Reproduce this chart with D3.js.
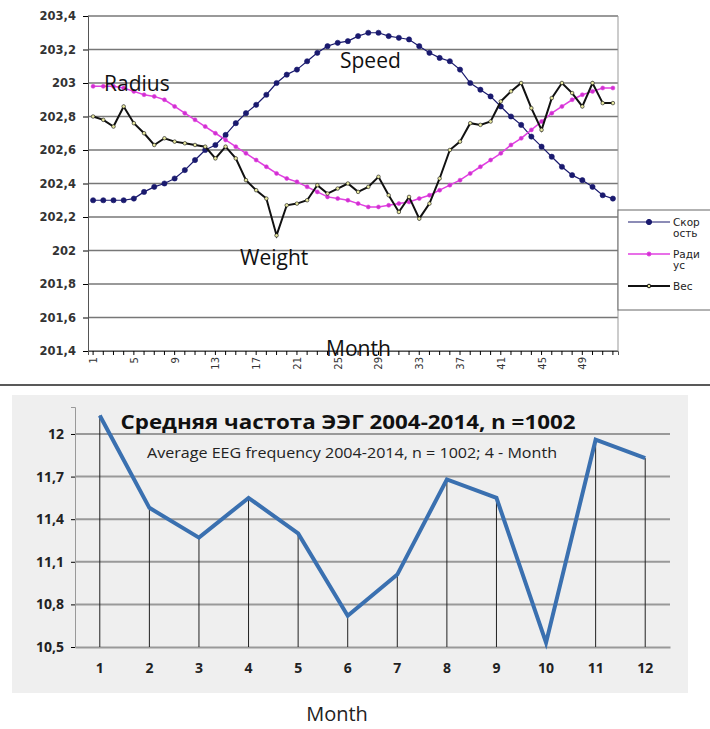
<!DOCTYPE html>
<html><head><meta charset="utf-8">
<script src="https://cdn.jsdelivr.net/npm/d3@7"></script>
<style>
body{margin:0;background:#fff;}
svg{display:block;}
</style></head>
<body>
<svg id="chart" width="710" height="729"></svg>
<script>
// top chart: 52 weeks
var weeks = d3.range(1, 53);
var speed = [202.3,202.3,202.3,202.3,202.31,202.35,202.38,202.4,202.43,202.48,202.54,202.6,202.63,202.69,202.76,202.82,202.87,202.93,203.0,203.05,
  203.08,203.13,203.18,203.22,203.24,203.25,203.28,203.3,203.3,203.28,203.27,203.26,203.22,203.18,203.15,203.13,203.08,203.0,202.96,202.92,
  202.86,202.8,202.75,202.68,202.62,202.56,202.5,202.45,202.42,202.38,202.33,202.31];
var radius = [202.98,202.98,202.98,202.97,202.95,202.93,202.92,202.9,202.86,202.82,202.78,202.74,202.7,202.66,202.62,202.58,202.54,202.5,202.46,202.43,
  202.41,202.38,202.35,202.32,202.31,202.3,202.28,202.26,202.26,202.27,202.28,202.29,202.31,202.33,202.36,202.39,202.42,202.46,202.5,202.54,
  202.58,202.63,202.67,202.72,202.77,202.82,202.86,202.9,202.93,202.95,202.97,202.97];
var weight = [202.8,202.78,202.74,202.86,202.76,202.7,202.63,202.67,202.65,202.64,202.63,202.62,202.55,202.62,202.55,202.42,202.36,202.31,202.09,202.27,
  202.28,202.3,202.39,202.34,202.37,202.4,202.35,202.38,202.44,202.33,202.23,202.32,202.19,202.28,202.43,202.6,202.65,202.76,202.75,202.77,
  202.89,202.95,203.0,202.85,202.72,202.91,203.0,202.94,202.86,203.0,202.88,202.88];
var topTicks = [201.4,201.6,201.8,202,202.2,202.4,202.6,202.8,203,203.2,203.4];
var weekLabels = [1,5,9,13,17,21,25,29,33,37,41,45,49];

// bottom chart: 12 months
var months = [1,2,3,4,5,6,7,8,9,10,11,12];
var eeg = [12.13,11.48,11.27,11.55,11.3,10.72,11.01,11.68,11.55,10.53,11.96,11.83];
var eegTicks = [10.5,10.8,11.1,11.4,11.7,12];

var svg = d3.select('#chart');
var comma = function(v){ return String(+v.toFixed(1)).replace('.', ','); };
var narrow = 'Liberation Sans Narrow, Open Sans, sans-serif';

// ---------- top chart ----------
var x1 = d3.scaleBand().domain(weeks).range([88, 618]);
var y1 = d3.scaleLinear().domain([201.4, 203.4]).range([351, 16]);
var g1 = svg.append('g');

g1.selectAll('.grid').data(topTicks).enter().append('line')
  .attr('x1', 88).attr('x2', 618)
  .attr('y1', function(d){ return y1(d); }).attr('y2', function(d){ return y1(d); })
  .attr('stroke', '#777').attr('stroke-width', 1.3);
g1.append('line').attr('x1', 618).attr('x2', 618).attr('y1', 16).attr('y2', 351).attr('stroke', '#999');

var ya1 = g1.append('g').attr('transform', 'translate(88,0)')
  .call(d3.axisLeft(y1).tickValues(topTicks).tickFormat(comma).tickSize(5));
ya1.selectAll('text').attr('font-family', 'DejaVu Sans').attr('font-size', 11.5).attr('font-weight', 'bold').attr('fill', '#333').attr('dx', -4);
ya1.select('.domain').attr('stroke', '#555');

var xa1 = g1.append('g').attr('transform', 'translate(0,351)')
  .call(d3.axisBottom(x1).tickValues(weeks).tickFormat(function(d){ return weekLabels.indexOf(d) >= 0 ? d : ''; }).tickSize(4));
xa1.selectAll('text').attr('font-family', 'DejaVu Sans').attr('font-size', 10).attr('fill', '#333')
  .attr('transform', 'rotate(-90)').attr('text-anchor', 'end').attr('dx', -6).attr('dy', -3);
xa1.select('.domain').attr('stroke', '#555');

var series = [
  {data: speed, color: '#1a1a6e', mark: '#1a1a6e', r: 2.6, w: 1.2},
  {data: radius, color: '#e040e0', mark: '#d030d0', r: 2, w: 1.5},
  {data: weight, color: '#111', mark: '#e8e8a0', r: 1.8, w: 2}
];
var line1 = d3.line().x(function(d, i){ return x1(weeks[i]) + x1.bandwidth() / 2; }).y(function(d){ return y1(d); });
series.forEach(function(s){
  g1.append('path').datum(s.data).attr('d', line1).attr('fill', 'none').attr('stroke', s.color).attr('stroke-width', s.w);
  g1.selectAll(null).data(s.data).enter().append('circle')
    .attr('cx', function(d, i){ return x1(weeks[i]) + x1.bandwidth() / 2; })
    .attr('cy', function(d){ return y1(d); })
    .attr('r', s.r).attr('fill', s.mark).attr('stroke', s.color).attr('stroke-width', 0.6);
});

var lab = function(t, x, y){ g1.append('text').attr('x', x).attr('y', y).text(t)
  .attr('font-family', narrow).attr('font-size', 21).attr('fill', '#111'); };
lab('Radius', 104, 91);
lab('Speed', 340, 68);
lab('Weight', 240, 265);
lab('Month', 326, 356);

// legend
var lg = g1.append('g');
lg.append('rect').attr('x', 618).attr('y', 210).attr('width', 100).attr('height', 100).attr('fill', '#fff').attr('stroke', '#666');
var legItems = [
  {lines: ['Скор', 'ость'], s: series[0], y: 222},
  {lines: ['Ради', 'ус'], s: series[1], y: 254},
  {lines: ['Вес'], s: series[2], y: 286}
];
legItems.forEach(function(it){
  lg.append('line').attr('x1', 628).attr('x2', 670).attr('y1', it.y).attr('y2', it.y).attr('stroke', it.s.color).attr('stroke-width', it.s.w);
  lg.append('circle').attr('cx', 649).attr('cy', it.y).attr('r', it.s.r).attr('fill', it.s.mark).attr('stroke', it.s.color);
  it.lines.forEach(function(t, k){
    lg.append('text').attr('x', 673).attr('y', it.y + 4 + k * 11).text(t)
      .attr('font-family', 'DejaVu Sans').attr('font-size', 10.5).attr('fill', '#222');
  });
});

// separator
svg.append('line').attr('x1', 0).attr('x2', 710).attr('y1', 385).attr('y2', 385).attr('stroke', '#222').attr('stroke-width', 1.5);

// ---------- bottom chart ----------
var g2 = svg.append('g');
g2.append('rect').attr('x', 12).attr('y', 395).attr('width', 676).attr('height', 298).attr('fill', '#efefef');
var x2 = d3.scaleBand().domain(months).range([75, 670]);
var y2 = d3.scaleLinear().domain([10.5, 12.19]).range([647, 407]);
var cx = function(d, i){ return x2(months[i]) + x2.bandwidth() / 2; };

g2.selectAll('.grid').data(eegTicks.slice(1)).enter().append('line')
  .attr('x1', 75).attr('x2', 670)
  .attr('y1', function(d){ return y2(d); }).attr('y2', function(d){ return y2(d); })
  .attr('stroke', '#999').attr('stroke-width', 2);

var ya2 = g2.append('g').attr('transform', 'translate(75,0)')
  .call(d3.axisLeft(y2).tickValues(eegTicks).tickFormat(comma).tickSize(4));
ya2.selectAll('text').attr('font-family', 'Open Sans, sans-serif').attr('font-size', 14).attr('font-weight', 'bold').attr('fill', '#222').attr('dx', -4);
ya2.select('.domain').attr('stroke', '#999');

var xa2 = g2.append('g').attr('transform', 'translate(0,647)')
  .call(d3.axisBottom(x2).tickSize(0).tickPadding(16));
xa2.selectAll('text').attr('font-family', 'Open Sans, sans-serif').attr('font-size', 14).attr('font-weight', 'bold').attr('fill', '#222');
xa2.select('.domain').attr('stroke', '#999').attr('stroke-width', 2);

g2.selectAll('.drop').data(eeg).enter().append('line')
  .attr('x1', cx).attr('x2', cx)
  .attr('y1', function(d){ return y2(d); }).attr('y2', 647)
  .attr('stroke', '#222').attr('stroke-width', 1);

g2.append('path').datum(eeg)
  .attr('d', d3.line().x(cx).y(function(d){ return y2(d); }))
  .attr('fill', 'none').attr('stroke', '#3a70b0').attr('stroke-width', 4).attr('stroke-linejoin', 'miter');

g2.append('text').attr('x', 348).attr('y', 429).attr('text-anchor', 'middle')
  .text('Средняя частота ЭЭГ  2004-2014, n =1002')
  .attr('font-family', 'Open Sans, sans-serif').attr('font-size', 19).attr('font-weight', 'bold').attr('fill', '#111')
  .attr('textLength', 455).attr('lengthAdjust', 'spacingAndGlyphs');
g2.append('text').attr('x', 352).attr('y', 458).attr('text-anchor', 'middle')
  .text('Average EEG frequency 2004-2014, n = 1002; 4 - Month')
  .attr('font-family', narrow).attr('font-size', 15).attr('fill', '#222').attr('textLength', 410).attr('lengthAdjust', 'spacingAndGlyphs');
g2.append('text').attr('x', 337).attr('y', 721).attr('text-anchor', 'middle').text('Month')
  .attr('font-family', narrow).attr('font-size', 20).attr('fill', '#222');
</script>
</body></html>
